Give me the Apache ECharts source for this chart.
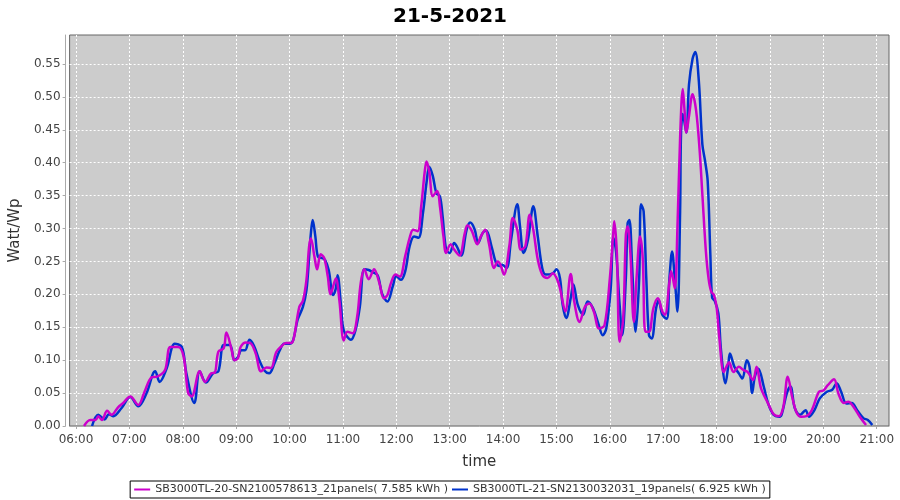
<!DOCTYPE html>
<html>
<head>
<meta charset="utf-8">
<script src="https://cdn.jsdelivr.net/npm/echarts@6/dist/echarts.min.js"></script>
<style>html,body{margin:0;padding:0;background:#fff}#c{width:900px;height:500px}</style>
</head>
<body>
<div id="c"></div>
<script>
const titleText = '21-5-2021';
const seriesNames = ['SB3000TL-20-SN2100578613_21panels( 7.585 kWh )', 'SB3000TL-21-SN2130032031_19panels( 6.925 kWh )'];
const xTickHours = [6,7,8,9,10,11,12,13,14,15,16,17,18,19,20,21];
const yTicks = [0,0.05,0.10,0.15,0.20,0.25,0.30,0.35,0.40,0.45,0.50,0.55];

const timesA = ['06:09','06:16','06:22','06:25','06:29','06:35','06:40','06:47','06:53','07:01','07:10','07:17','07:25','07:31','07:40','07:46','07:55','08:01','08:06','08:10','08:19','08:25','08:32','08:36','08:40','08:46','08:49','08:55','08:58',
'09:02','09:05','09:11','09:17','09:22','09:28','09:34','09:39','09:45','09:50','09:56','10:02','10:05','10:11','10:15','10:19','10:22','10:24','10:28','10:31','10:35','10:39','10:43','10:46','10:52','10:56','11:01','11:05','11:11','11:16','11:20','11:24','11:29','11:35','11:41','11:46','11:50','11:54','11:59',
'12:04','12:10','12:15','12:19','12:24','12:28','12:32','12:34','12:37','12:41','12:46','12:49','12:53','12:56','13:01','13:05','13:11','13:17','13:20','13:25','13:31','13:35','13:40','13:44','13:50','13:54','13:57','14:01','14:07','14:11','14:16','14:20','14:25','14:30','14:34','14:39','14:44','14:50','14:56','15:01',
'15:04','15:10','15:16','15:20','15:26','15:32','15:37','15:42','15:48','15:54','16:00','16:04','16:05','16:08','16:11','16:15','16:18','16:20','16:23','16:27','16:30','16:34','16:37','16:40','16:44','16:49','16:54','16:59','17:02','17:07','17:09','17:13','17:16','17:19','17:22','17:24','17:26','17:29','17:33','17:37','17:41','17:44','17:48','17:51','17:54','17:57',
'18:00','18:03','18:08','18:11','18:14','18:19','18:25','18:30','18:35','18:41','18:45','18:50','18:58','19:04','19:10','19:15','19:20','19:25','19:30','19:35','19:41','19:47','19:55','20:00','20:05','20:12','20:17','20:23','20:28','20:34','20:41','20:48'];
const valuesA = [0,0.009,0.009,0.015,0.009,0.023,0.017,0.028,0.035,0.045,0.032,0.052,0.074,0.075,0.085,0.12,0.12,0.105,0.05,0.045,0.083,0.067,0.08,0.081,0.113,0.118,0.142,0.115,0.10,
0.103,0.12,0.127,0.125,0.11,0.083,0.089,0.088,0.112,0.12,0.126,0.126,0.135,0.181,0.19,0.222,0.273,0.285,0.257,0.238,0.261,0.255,0.227,0.20,0.224,0.191,0.13,0.143,0.141,0.166,0.217,0.238,0.223,0.238,0.217,0.194,0.199,0.217,0.23,
0.227,0.258,0.286,0.298,0.296,0.334,0.387,0.402,0.387,0.349,0.357,0.334,0.288,0.263,0.276,0.268,0.259,0.293,0.305,0.296,0.276,0.288,0.298,0.278,0.24,0.25,0.245,0.23,0.273,0.316,0.298,0.268,0.273,0.321,0.298,0.253,0.23,0.225,0.232,0.222,
0.209,0.174,0.231,0.189,0.158,0.181,0.186,0.174,0.148,0.153,0.224,0.296,0.311,0.26,0.128,0.163,0.29,0.303,0.265,0.158,0.224,0.288,0.255,0.143,0.143,0.179,0.194,0.174,0.169,0.219,0.235,0.209,0.301,0.438,0.512,0.479,0.446,0.471,0.504,0.479,0.418,0.352,0.265,0.224,0.204,0.199,
0.181,0.135,0.082,0.09,0.097,0.082,0.09,0.085,0.082,0.07,0.09,0.057,0.034,0.018,0.015,0.029,0.075,0.044,0.02,0.014,0.015,0.024,0.052,0.054,0.062,0.071,0.049,0.035,0.037,0.029,0.014,0.0015];

const timesB = ['06:18','06:25','06:32','06:37','06:42','06:51','07:01','07:10','07:19','07:29','07:34','07:42','07:51','07:59','08:04','08:13','08:19','08:26','08:34','08:40','08:46','08:53','08:58',
'09:02','09:06','09:10','09:15','09:20','09:26','09:32','09:37','09:43','09:49','09:54','10:00','10:04','10:09','10:15','10:19','10:22','10:24','10:26','10:29','10:32','10:37','10:40','10:44','10:49','10:52','10:54','10:58','11:01','11:09','11:14','11:19','11:24','11:29','11:33','11:39','11:44','11:50','11:56',
'12:00','12:05','12:10','12:15','12:20','12:25','12:30','12:34','12:37','12:41','12:45','12:49','12:52','12:56','13:00','13:05','13:08','13:13','13:19','13:23','13:28','13:32','13:37','13:41','13:47','13:52','13:56','13:59','14:04','14:09','14:16','14:19','14:23','14:28','14:34','14:39','14:44','14:48','14:56','15:00',
'15:04','15:07','15:11','15:16','15:19','15:24','15:30','15:35','15:41','15:47','15:52','15:56','16:01','16:04','16:07','16:11','16:14','16:18','16:20','16:22','16:25','16:29','16:33','16:35','16:38','16:41','16:44','16:47','16:52','16:55','16:59','17:04','17:07','17:10','17:13','17:16','17:19','17:20','17:22','17:26','17:29','17:33','17:36','17:40','17:44','17:47','17:50','17:53','17:55','17:58',
'18:02','18:05','18:10','18:13','18:15','18:20','18:25','18:29','18:34','18:37','18:40','18:43','18:47','18:53','18:58','19:04','19:10','19:13','19:19','19:23','19:28','19:34','19:40','19:44','19:50','19:56','20:04','20:10','20:15','20:20','20:26','20:32','20:38','20:45','20:50','20:55'];
const valuesB = [0,0.017,0.01,0.018,0.015,0.027,0.044,0.03,0.049,0.083,0.067,0.088,0.125,0.12,0.08,0.035,0.083,0.066,0.08,0.083,0.123,0.123,0.10,
0.105,0.115,0.115,0.131,0.122,0.10,0.084,0.08,0.095,0.115,0.125,0.125,0.13,0.161,0.181,0.206,0.257,0.293,0.313,0.288,0.257,0.255,0.252,0.237,0.199,0.209,0.229,0.181,0.145,0.131,0.145,0.181,0.238,0.237,0.234,0.229,0.201,0.189,0.212,
0.228,0.222,0.235,0.273,0.288,0.286,0.324,0.37,0.394,0.38,0.354,0.349,0.319,0.268,0.263,0.278,0.273,0.259,0.298,0.309,0.299,0.278,0.293,0.297,0.273,0.248,0.243,0.245,0.24,0.283,0.337,0.304,0.263,0.283,0.334,0.288,0.24,0.23,0.232,0.238,
0.224,0.184,0.164,0.194,0.215,0.184,0.169,0.189,0.179,0.156,0.138,0.148,0.209,0.286,0.265,0.184,0.138,0.224,0.308,0.313,0.245,0.143,0.224,0.337,0.326,0.224,0.138,0.133,0.179,0.191,0.169,0.163,0.224,0.265,0.224,0.174,0.326,0.443,0.474,0.446,0.519,0.558,0.568,0.525,0.428,0.403,0.372,0.26,0.195,0.19,
0.171,0.115,0.065,0.09,0.11,0.09,0.08,0.072,0.10,0.09,0.05,0.075,0.087,0.06,0.034,0.017,0.014,0.017,0.05,0.06,0.027,0.017,0.024,0.014,0.024,0.042,0.052,0.055,0.065,0.052,0.034,0.035,0.024,0.012,0.009,0.0015];

function toHours(t){ const p=t.split(':'); return +p[0] + (+p[1])/60; }
function pairs(ts, vs){ return ts.map((t,i)=>[toHours(t), vs[i]]); }

const FONT = 'DejaVu Sans';
const chart = echarts.init(document.getElementById('c'), null, {renderer:'canvas'});
chart.setOption({
  animation: false,
  backgroundColor: '#ffffff',
  title: { text: titleText, left: 'center', top: 2, textStyle: { fontFamily: FONT, fontSize: 20, fontWeight: 'bold', color: '#000' } },
  grid: { left: 68, right: 11, top: 35, bottom: 74, show: true, backgroundColor: '#cccccc', borderColor: '#666666', borderWidth: 1 },
  xAxis: {
    type: 'value', min: 5.88, max: 21.23, offset: 4,
    name: 'time', nameLocation: 'middle', nameGap: 25,
    nameTextStyle: { fontFamily: FONT, fontSize: 15, color: '#333' },
    axisLine: { show: true, lineStyle: { color: '#aaaaaa', width: 1 } },
    axisTick: { show: true, length: 3, customValues: xTickHours, lineStyle: { color: '#aaaaaa' } },
    axisLabel: { customValues: xTickHours, fontFamily: FONT, fontSize: 12, color: '#444', margin: 4,
      formatter: v => String(Math.round(v)).padStart(2,'0') + ':00' },
    splitLine: { show: true, lineStyle: { color: '#ffffff', type: [2,2], width: 1 } }
  },
  yAxis: {
    type: 'value', min: 0, max: 0.594, offset: 4,
    name: 'Watt/Wp', nameLocation: 'middle', nameGap: 38,
    nameTextStyle: { fontFamily: FONT, fontSize: 15, color: '#333' },
    axisLine: { show: true, lineStyle: { color: '#aaaaaa', width: 1 } },
    axisTick: { show: true, length: 3, customValues: yTicks, lineStyle: { color: '#aaaaaa' } },
    axisLabel: { customValues: yTicks, fontFamily: FONT, fontSize: 12, color: '#444', margin: 5,
      formatter: v => v.toFixed(2) },
    splitLine: { show: true, lineStyle: { color: '#ffffff', type: [2,2], width: 1 } }
  },
  legend: {
    bottom: 2, left: 'center', orient: 'horizontal',
    data: seriesNames,
    borderColor: '#000', borderWidth: 1, padding: [3, 4, 3, 4], itemGap: 4,
    icon: 'rect', itemWidth: 16, itemHeight: 2,
    textStyle: { fontFamily: FONT, fontSize: 11, color: '#333' }
  },
  series: [
    { name: seriesNames[1], type: 'line', data: pairs(timesB, valuesB), smooth: 0.35, showSymbol: false,
      lineStyle: { color: '#0033cc', width: 2.5 }, itemStyle: { color: '#0033cc' } },
    { name: seriesNames[0], type: 'line', data: pairs(timesA, valuesA), smooth: 0.35, showSymbol: false,
      lineStyle: { color: '#cc00cc', width: 2.5 }, itemStyle: { color: '#cc00cc' } }
  ]
});
</script>
</body>
</html>
